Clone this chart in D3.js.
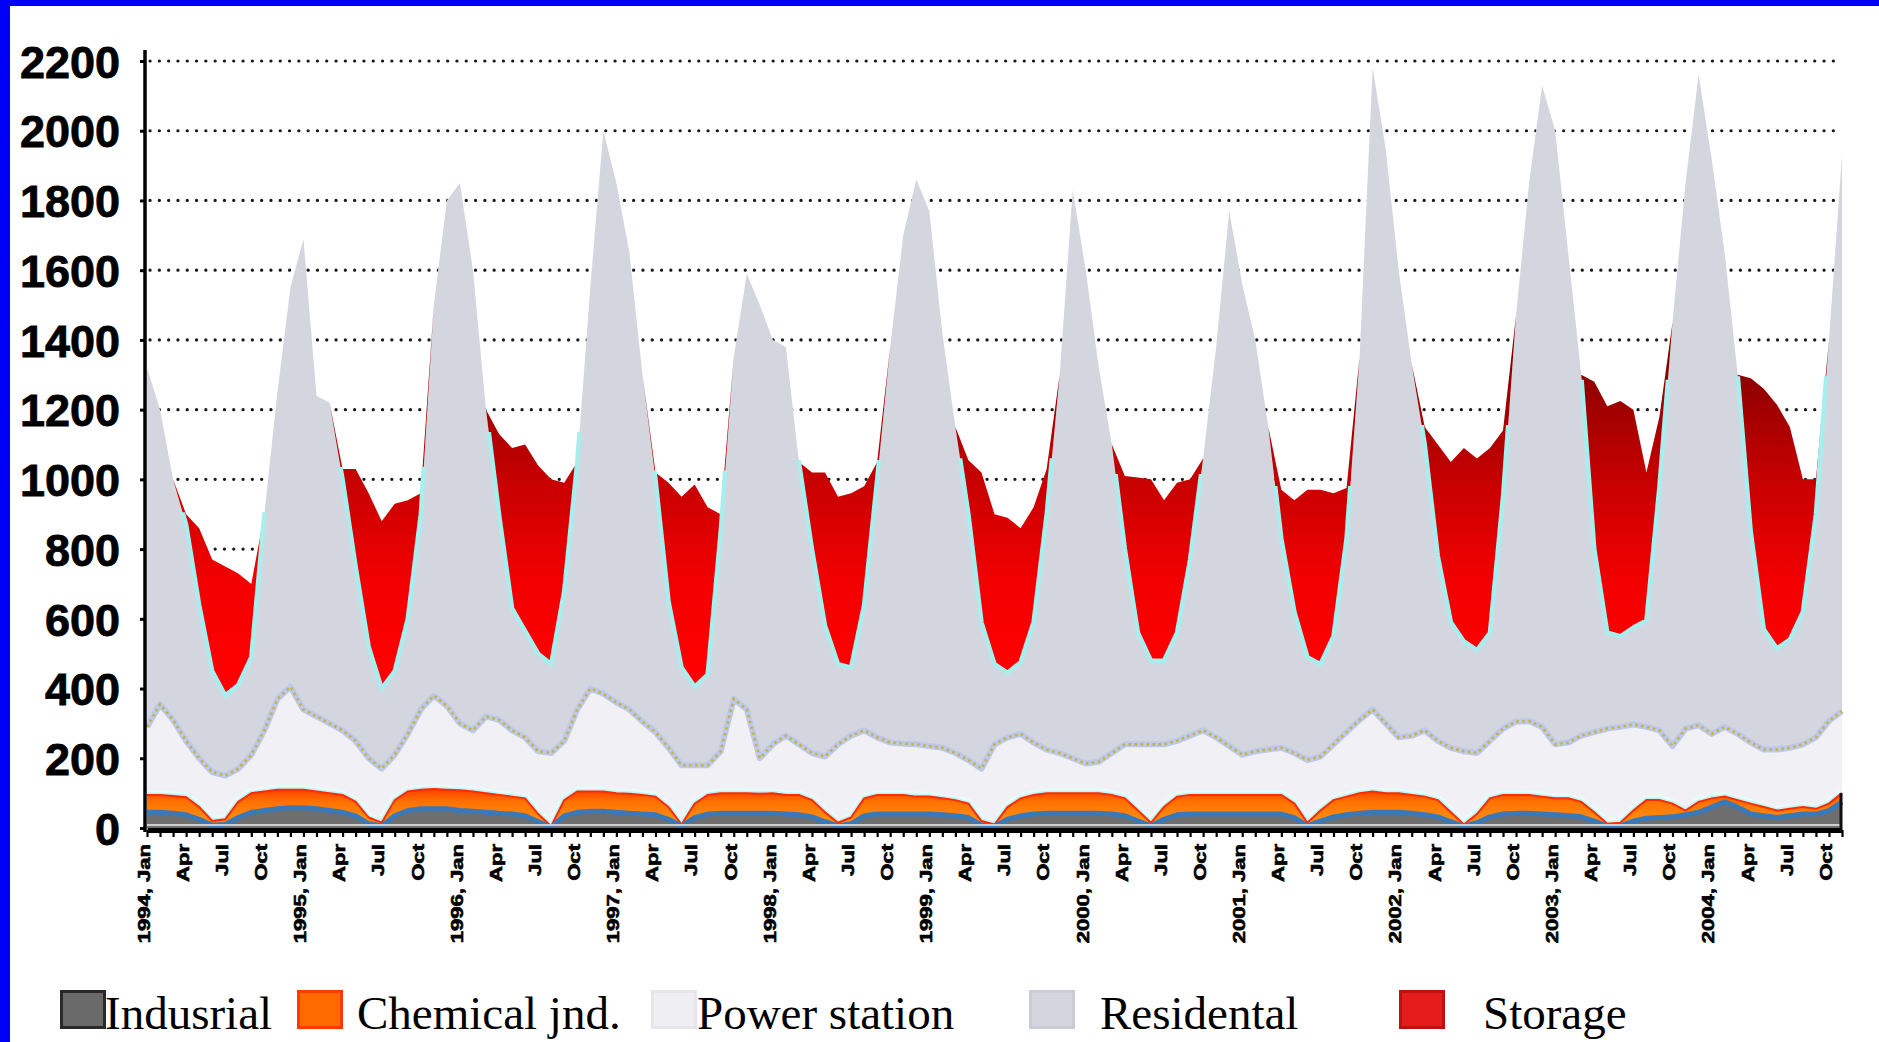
<!DOCTYPE html>
<html><head><meta charset="utf-8">
<script src="https://cdn.jsdelivr.net/npm/d3@7"></script>
<style>
html,body{margin:0;padding:0;background:#fff;}
svg{display:block;}
</style></head><body>
<svg id="chart" width="1879" height="1042"></svg>
<script>
// Monthly values, Jan 1994 .. Nov 2004 (stack thickness of each series)
const industrial = [
45,45,42,38,25,8,10,30,45,50,55,58,
58,55,50,45,35,12,6,35,50,55,55,55,
50,48,45,42,40,35,18,2,35,45,48,48,
45,42,40,38,25,5,30,40,42,42,42,42,
42,40,38,32,18,6,12,35,40,40,40,40,
40,38,35,30,8,5,25,35,40,42,42,42,
42,42,40,35,20,6,25,38,40,40,40,40,
40,40,40,40,30,6,20,32,38,42,45,45,
45,42,38,32,18,5,15,32,40,42,42,40,
38,36,32,20,5,6,20,28,30,32,38,45,
60,75,60,40,35,30,35,40,40,50,75];
const chemical = [
50,50,50,50,35,12,15,45,55,55,55,52,
52,50,50,50,40,18,9,45,55,55,57,55,
58,57,55,53,50,50,22,3,45,60,57,57,
55,56,55,52,35,5,40,55,58,58,58,56,
58,55,57,48,27,9,18,50,55,55,55,50,
50,47,45,40,12,5,35,50,55,58,58,58,
58,58,55,50,30,9,35,52,55,55,55,55,
55,55,55,55,40,9,30,48,52,58,60,55,
55,53,52,48,27,5,25,53,55,53,53,50,
47,49,43,25,7,9,30,52,50,38,12,30,
25,15,20,30,25,20,20,20,15,20,25];
const powerStation = [
195,260,218,162,140,140,125,95,110,175,260,295,
230,215,200,185,175,170,155,130,165,230,268,240,
192,175,220,215,190,175,180,210,170,235,295,280,
260,242,210,185,170,170,110,85,120,270,240,102,
140,170,145,135,160,225,235,195,165,150,147,150,
145,145,135,125,150,230,200,185,150,125,115,100,
85,90,120,155,190,225,180,160,170,185,165,140,
115,125,130,135,145,180,155,160,185,210,235,200,
160,170,190,170,185,210,175,165,190,210,212,200,
155,160,190,230,273,275,247,210,200,165,235,220,
185,200,190,175,165,175,175,180,205,237,235];
const residential = [
1030,845,690,620,440,290,230,240,280,620,880,1145,
1350,920,920,720,500,320,230,240,330,560,1120,1450,
1550,1320,880,590,350,305,280,255,430,710,1150,1615,
1490,1310,995,725,420,280,225,260,630,980,1250,1300,
1160,1115,810,585,375,230,195,360,740,1135,1458,1620,
1535,1190,935,705,420,230,185,205,345,675,1085,1630,
1415,1130,885,560,320,240,240,310,505,780,1120,1535,
1350,1180,925,600,405,295,265,310,555,1040,1840,1650,
1340,1065,820,530,360,315,295,310,665,1165,1543,1840,
1760,1405,1035,525,275,260,278,305,700,1215,1565,1865,
1650,1360,1030,605,345,290,310,380,640,1093,1595];
const storage = [
0,0,0,30,220,320,370,320,210,0,0,0,
0,0,0,30,280,440,480,480,340,60,0,0,
0,0,0,230,460,535,540,530,310,0,0,0,
0,0,0,20,340,490,580,480,50,0,0,0,
0,0,0,220,440,480,500,340,50,0,0,0,
0,0,0,155,430,430,445,385,330,130,0,0,
0,0,0,210,445,520,460,430,230,0,0,0,
0,0,0,140,320,480,500,410,145,0,0,0,
0,0,50,320,460,555,550,530,190,0,0,0,
0,0,0,480,650,675,625,425,200,0,0,0,
0,0,0,440,690,700,610,380,100,0,0];

const tickLabels = [
"1994, Jan","Apr","Jul","Oct","1995, Jan","Apr","Jul","Oct",
"1996, Jan","Apr","Jul","Oct","1997, Jan","Apr","Jul","Oct",
"1998, Jan","Apr","Jul","Oct","1999, Jan","Apr","Jul","Oct",
"2000, Jan","Apr","Jul","Oct","2001, Jan","Apr","Jul","Oct",
"2002, Jan","Apr","Jul","Oct","2003, Jan","Apr","Jul","Oct",
"2004, Jan","Apr","Jul","Oct"];
const yTicks = [0,200,400,600,800,1000,1200,1400,1600,1800,2000,2200];
const seriesKeys = ["Industrial","Chemical","Power","Residential","Storage"];
const legendLabels = ["Indusrial","Chemical jnd.","Power station","Residental","Storage"];

const rows = industrial.map((v,i)=>({
  Industrial:v, Chemical:chemical[i], Power:powerStation[i],
  Residential:residential[i], Storage:storage[i]}));
const N = rows.length;

const svg = d3.select("#chart");
const x = d3.scaleLinear().domain([0, N-1]).range([147, 1842]);
const y = d3.scaleLinear().domain([0, 2200]).range([828, 61]);

const stacked = d3.stack().keys(seriesKeys)(rows);
const S = {}; stacked.forEach(s=>S[s.key]=s);

const defs = svg.append("defs");
const grad = defs.append("linearGradient").attr("id","redGrad")
  .attr("gradientUnits","userSpaceOnUse").attr("x1",0).attr("x2",0)
  .attr("y1",y(1320)).attr("y2",y(450));
grad.append("stop").attr("offset","0%").attr("stop-color","#8a0000");
grad.append("stop").attr("offset","35%").attr("stop-color","#c40000");
grad.append("stop").attr("offset","70%").attr("stop-color","#f20000");
grad.append("stop").attr("offset","100%").attr("stop-color","#ff0000");
const orGrad = defs.append("linearGradient").attr("id","orGrad")
  .attr("gradientUnits","userSpaceOnUse").attr("x1",0).attr("x2",0)
  .attr("y1",y(115)).attr("y2",y(30));
orGrad.append("stop").attr("offset","0%").attr("stop-color","#ff3a00");
orGrad.append("stop").attr("offset","45%").attr("stop-color","#ff7000");
orGrad.append("stop").attr("offset","100%").attr("stop-color","#ff8a10");

// clip for the cyan outline: only alongside storage regions, capped at region's top
const regions = [];
for (let i=0;i<N;i++){
  if (storage[i]>0 && (i===0 || storage[i-1]===0)) regions.push({s:i,e:i});
  if (storage[i]>0) regions[regions.length-1].e = i;
}
const clip = defs.append("clipPath").attr("id","cyanClip");
regions.forEach(r=>{
  let top = 0;
  for (let i=r.s;i<=r.e;i++) top = Math.max(top, S.Storage[i][1]);
  const x0 = x(Math.max(0,r.s-1)), x1 = x(Math.min(N-1,r.e+1));
  clip.append("rect").attr("x",x0-4).attr("width",x1-x0+8)
    .attr("y",y(top)-2).attr("height",y(0)-y(top)+2);
});

svg.append("rect").attr("width",1879).attr("height",1042).attr("fill","#fff");

// gridlines
svg.append("g").selectAll("line").data(yTicks.filter(d=>d>0)).join("line")
  .attr("x1",150).attr("x2",1842).attr("y1",d=>y(d)).attr("y2",d=>y(d))
  .attr("stroke","#1a1a1a").attr("stroke-width",3.2)
  .attr("stroke-linecap","round").attr("stroke-dasharray","0.1,9.2");

const area = d3.area().x((d,i)=>x(i)).y0(d=>y(d[0])).y1(d=>y(d[1]));
const topLine = d3.line().x((d,i)=>x(i)).y(d=>y(d[1]));

svg.append("path").attr("d",area(S.Residential)).attr("fill","#d3d6de");
svg.append("path").attr("d",area(S.Power)).attr("fill","#f1f1f5");
svg.append("path").attr("d",area(S.Storage)).attr("fill","url(#redGrad)");

// residential top outline (cyan) around storage regions
svg.append("path").attr("d",topLine(S.Residential)).attr("clip-path","url(#cyanClip)")
  .attr("fill","none").attr("stroke","#a8eeee").attr("stroke-width",4.5).attr("stroke-linejoin","round");

// power station top: light blue halo + yellow dotted
svg.append("path").attr("d",topLine(S.Power)).attr("fill","none")
  .attr("stroke","#bcc8ee").attr("stroke-width",6).attr("stroke-linejoin","round");
svg.append("path").attr("d",topLine(S.Power)).attr("fill","none")
  .attr("stroke","#c8b432").attr("stroke-width",2.6).attr("stroke-dasharray","2.5,3.5");

// chemical top halo
svg.append("path").attr("d",topLine(S.Chemical)).attr("fill","none")
  .attr("stroke","#e6fbfb").attr("stroke-width",10).attr("stroke-linejoin","round");
svg.append("path").attr("d",topLine(S.Chemical)).attr("fill","none")
  .attr("stroke","#c6f2f4").attr("stroke-width",5).attr("stroke-linejoin","round");

svg.append("path").attr("d",area(S.Chemical)).attr("fill","url(#orGrad)");
svg.append("path").attr("d",area(S.Industrial)).attr("fill","#6e6e6e");
svg.append("path").attr("d",topLine(S.Chemical)).attr("fill","none")
  .attr("stroke","#ff2a00").attr("stroke-width",2);
svg.append("path").attr("d",topLine(S.Industrial)).attr("fill","none")
  .attr("stroke","#3a78b8").attr("stroke-width",5).attr("stroke-linejoin","round");
svg.append("line").attr("x1",147).attr("x2",1842).attr("y1",y(0)-3).attr("y2",y(0)-3)
  .attr("stroke","#cfcfcf").attr("stroke-width",2);
svg.append("line").attr("x1",1841).attr("x2",1841).attr("y1",y(0)).attr("y2",y(industrial[N-1]+chemical[N-1]))
  .attr("stroke","#111").attr("stroke-width",3);

// axes
const gx = svg.append("g").attr("transform",`translate(0,${y(0)+2})`)
  .call(d3.axisBottom(x).tickValues(d3.range(0,N)).tickFormat("").tickSize(7).tickSizeOuter(0));
gx.select(".domain").attr("stroke","#000").attr("stroke-width",5);
gx.selectAll(".tick line").attr("stroke","#000").attr("stroke-width",2.2);

const gy = svg.append("g").attr("transform","translate(145,0)")
  .call(d3.axisLeft(y).tickValues(yTicks).tickFormat(d3.format("d")).tickSize(5).tickSizeOuter(0).tickPadding(20));
gy.select(".domain").attr("stroke","#000").attr("stroke-width",3.5)
  .attr("d",`M0,50V${y(0)+4}`);
gy.selectAll(".tick line").attr("stroke","#000").attr("stroke-width",3);
gy.selectAll(".tick text").attr("font-family","'Liberation Sans', Arial, sans-serif")
  .attr("font-weight","bold").attr("font-size",45).attr("fill","#000")
  .attr("stroke","#000").attr("stroke-width",0.8).attr("dy","0.36em");

// x labels
svg.append("g").selectAll("text").data(tickLabels).join("text")
  .attr("transform",(d,i)=>`translate(${x(i*3)-3},${y(0)+16}) rotate(-90) scale(1.38,1)`)
  .attr("text-anchor","end").attr("dy","0.36em")
  .attr("font-family","'Liberation Sans', Arial, sans-serif").attr("font-weight","bold")
  .attr("font-size",16).attr("fill","#000").attr("stroke","#000").attr("stroke-width",0.6)
  .text(d=>d);

// legend
const legendFill = ["#6a6a6a","#ff6a00","#efeff3","#d3d6de","#e41c1c"];
const legendStroke = ["#2a2a2a","#ff3a00","#e6e6ea","#c9ccd4","#c01010"];
const legendBoxX = [60,297,651,1029,1399];
const legendTextX = [105,357,697,1100,1483];
const lg = svg.append("g");
legendLabels.forEach((lab,i)=>{
  lg.append("rect").attr("x",legendBoxX[i]+1.5).attr("y",991.5).attr("width",43).attr("height",36)
    .attr("fill",legendFill[i]).attr("stroke",legendStroke[i]).attr("stroke-width",3);
  lg.append("text").attr("x",legendTextX[i]).attr("y",1029)
    .attr("font-family","'Liberation Serif', 'Times New Roman', serif").attr("font-size",47)
    .attr("fill","#000").text(lab);
});

// blue frame
svg.append("rect").attr("x",0).attr("y",0).attr("width",10).attr("height",1042).attr("fill","#0000f4");
svg.append("rect").attr("x",0).attr("y",0).attr("width",1879).attr("height",6).attr("fill","#0000f4");
</script>
</body></html>
